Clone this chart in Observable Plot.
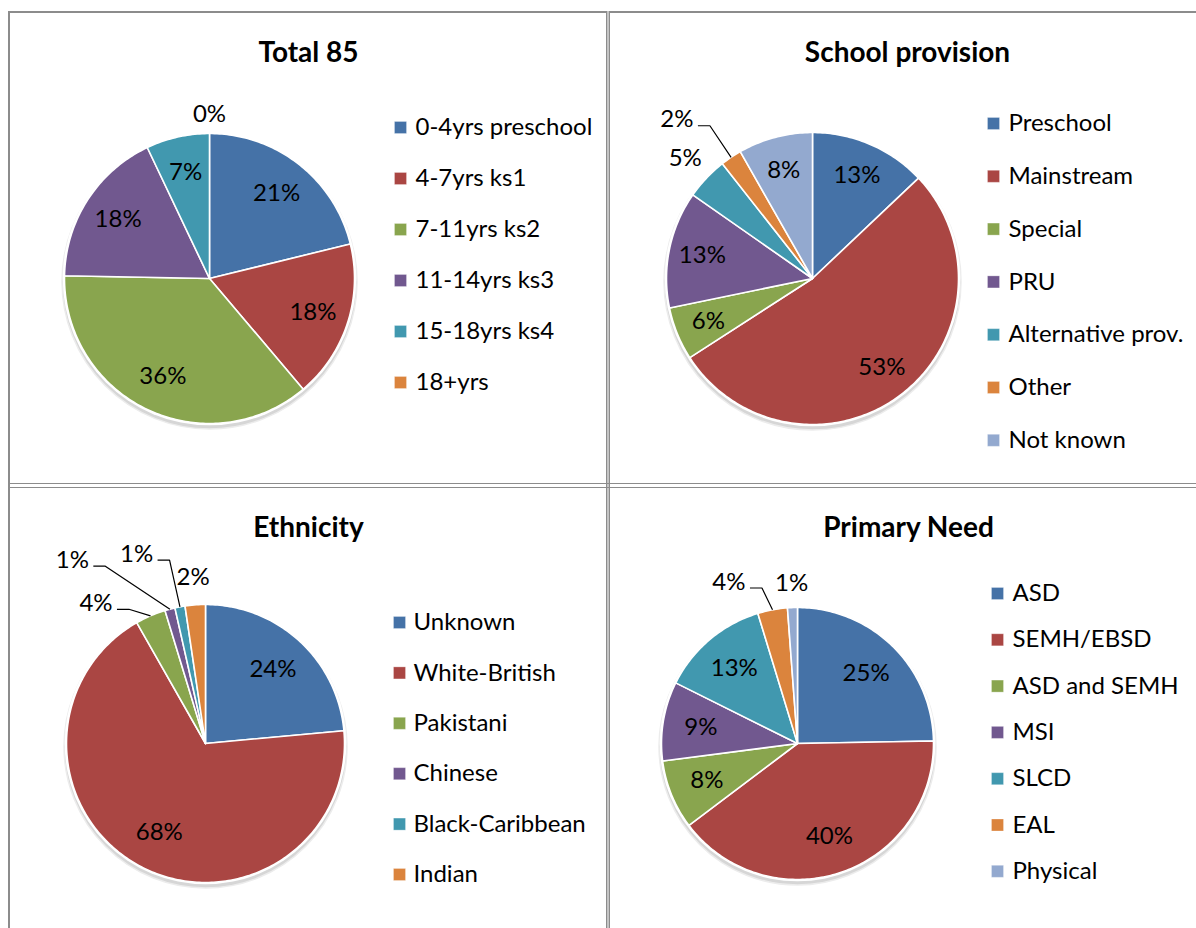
<!DOCTYPE html>
<html>
<head>
<meta charset="utf-8">
<script src="https://cdn.jsdelivr.net/npm/d3@7"></script>
<script src="https://cdn.jsdelivr.net/npm/@observablehq/plot@0.6"></script>
<style>
  html, body { margin: 0; padding: 0; background: #fff; }
  #page { position: relative; width: 1196px; height: 928px; overflow: hidden; font-family: Lato, "Open Sans", sans-serif; }
  .panel { position: absolute; }
  .hl, .vl { position: absolute; background: #8c8c8c; }
</style>
</head>
<body>
<div id="page"></div>
<script>
// ---------- data ----------
const titles = ["Total 85", "School provision", "Ethnicity", "Primary Need"];

const ageCategories = ["0-4yrs preschool", "4-7yrs ks1", "7-11yrs ks2", "11-14yrs ks3", "15-18yrs ks4", "18+yrs"];
const ageCounts = [18, 15, 31, 15, 6, 0];

const provisionCategories = ["Preschool", "Mainstream", "Special", "PRU", "Alternative prov.", "Other", "Not known"];
const provisionCounts = [11, 45, 5, 11, 4, 2, 7];

const ethnicityCategories = ["Unknown", "White-British", "Pakistani", "Chinese", "Black-Caribbean", "Indian"];
const ethnicityCounts = [20, 58, 3, 1, 1, 2];

const needCategories = ["ASD", "SEMH/EBSD", "ASD and SEMH", "MSI", "SLCD", "EAL", "Physical"];
const needCounts = [21, 34, 7, 8, 11, 3, 1];

const palette = ["#4572A7", "#AA4643", "#89A54E", "#71588F", "#4198AF", "#DB843D", "#93A9CF"];

// ---------- layout (page pixel units) ----------
const panels = [
  {title: titles[0], cats: ageCategories, vals: ageCounts,
   box: [10, 13, 596, 470], cx: 209, cy: 278, r: 145,
   legend: {sx: 400, tx: 415, y0: 127, dy: 51}, titleX: 308, titleY: 53, inner: 0.75,
   labels: {5: {k: 1.13}}},
  {title: titles[1], cats: provisionCategories, vals: provisionCounts,
   box: [611, 13, 585, 470], cx: 812, cy: 278, r: 146,
   legend: {sx: 993, tx: 1008, y0: 123, dy: 52.8}, titleX: 907, titleY: 53, inner: 0.77,
   labels: {4: {k: 1.2}, 5: {k: 1.43, a: 319.5, leader: true}}},
  {title: titles[2], cats: ethnicityCategories, vals: ethnicityCounts,
   box: [10, 489, 596, 439], cx: 205, cy: 743, r: 139,
   legend: {sx: 399, tx: 413, y0: 622, dy: 50.4}, titleX: 308, titleY: 528, inner: 0.72,
   labels: {2: {k: 1.28, a: 322, leader: true}, 3: {k: 1.63, a: 324, leader: true}, 4: {k: 1.45, a: 340, leader: true}, 5: {k: 1.2}}},
  {title: titles[3], cats: needCategories, vals: needCounts,
   box: [611, 489, 585, 439], cx: 797, cy: 743, r: 136,
   legend: {sx: 997, tx: 1012, y0: 593, dy: 46.3}, titleX: 908, titleY: 528, inner: 0.72,
   labels: {5: {k: 1.29, a: 337, leader: true}, 6: {k: 1.18}}}
];

const page = document.getElementById("page");

// grid lines
function line(cls, l, t, w, h, color) {
  const d = document.createElement("div");
  d.className = cls;
  Object.assign(d.style, {left: l + "px", top: t + "px", width: w + "px", height: h + "px"});
  if (color) d.style.background = color;
  page.appendChild(d);
}
line("hl", 8, 11, 1188, 2);
line("vl", 8, 11, 2, 917);
line("vl", 607, 11, 2, 917, "#c4c4c4");
line("vl", 605.5, 11, 1.7, 917);
line("vl", 608.8, 11, 1.7, 917);
line("hl", 8, 482.5, 1188, 1.6);
line("hl", 8, 486.6, 1188, 1.6);

function polar(p, angleRad, d) {
  return [p.cx + d * Math.sin(angleRad), p.cy - d * Math.cos(angleRad)];
}

panels.forEach(p => {
  const [left, top, w, h] = p.box;
  const total = d3.sum(p.vals);
  const arcs = d3.pie().sort(null).value(d => d)(p.vals);

  // slice polygons
  const slicePts = [];
  arcs.forEach((a, i) => {
    if (a.value <= 0) return;
    const cat = p.cats[i];
    slicePts.push({x: p.cx, y: p.cy, cat, id: i});
    const steps = Math.max(2, Math.ceil((a.endAngle - a.startAngle) / (Math.PI / 180)));
    for (let s = 0; s <= steps; s++) {
      const ang = a.startAngle + (a.endAngle - a.startAngle) * s / steps;
      const [x, y] = polar(p, ang, p.r);
      slicePts.push({x, y, cat, id: i});
    }
    slicePts.push({x: p.cx, y: p.cy, cat, id: i});
  });

  // labels
  const labelRows = [];
  const leaderPts = [];
  arcs.forEach((a, i) => {
    const mid = (a.startAngle + a.endAngle) / 2;
    const o = p.labels[i] || {};
    const ang = o.a !== undefined ? o.a * Math.PI / 180 : mid;
    const k = o.k !== undefined ? o.k : p.inner;
    const [x, y] = polar(p, ang, k * p.r);
    labelRows.push({x, y, text: Math.round(a.value / total * 100) + "%"});
    if (o.leader) {
      const [ex, ey] = polar(p, mid, p.r);
      leaderPts.push({x: x + 21, y: y + 6, id: i});
      leaderPts.push({x: x + 33, y: y + 6, id: i});
      leaderPts.push({x: ex, y: ey, id: i});
    }
  });

  const legendRows = p.cats.map((c, i) => ({cat: c, y: p.legend.y0 + i * p.legend.dy}));

  const chart = Plot.plot({
    width: w, height: h,
    margin: 0,
    x: {domain: [left, left + w], range: [0, w], axis: null},
    y: {domain: [top, top + h], range: [0, h], axis: null},
    color: {domain: p.cats, range: palette.slice(0, p.cats.length)},
    style: {fontFamily: "Lato, 'Open Sans', sans-serif", background: "transparent", overflow: "visible"},
    marks: [
      // shadow + rim
      Plot.dot([{x: p.cx, y: p.cy}], {x: "x", y: "y", r: p.r + 2.5, dy: 3, fill: "#d6d6d6", stroke: "#ececec", strokeWidth: 1.5}),
      Plot.dot([{x: p.cx, y: p.cy}], {x: "x", y: "y", r: p.r + 1.8, fill: "#ffffff"}),
      // slices
      Plot.line(slicePts, {x: "x", y: "y", z: "id", fill: "cat", stroke: "#ffffff", strokeWidth: 1.6, curve: "linear"}),
      // leaders
      Plot.line(leaderPts, {x: "x", y: "y", z: "id", stroke: "#000", strokeWidth: 1.2, strokeLinecap: "butt", strokeLinejoin: "miter"}),
      // percent labels
      Plot.text(labelRows, {x: "x", y: "y", text: "text", fontSize: 24, fill: "#000", textAnchor: "middle", lineAnchor: "middle"}),
      // title
      Plot.text([p.title], {x: () => p.titleX, y: () => p.titleY, text: d => d, fontSize: 28, fontWeight: "bold", fill: "#000", textAnchor: "middle", lineAnchor: "middle"}),
      // legend
      Plot.dot(legendRows, {x: () => p.legend.sx, y: "y", symbol: "square", r: 6.8, fill: "cat", stroke: "#ffffff", strokeOpacity: 0.5, strokeWidth: 0.6}),
      Plot.text(legendRows, {x: () => p.legend.tx, y: "y", text: "cat", fontSize: 24, fill: "#000", textAnchor: "start", lineAnchor: "middle"})
    ]
  });

  const holder = document.createElement("div");
  holder.className = "panel";
  Object.assign(holder.style, {left: left + "px", top: top + "px", width: w + "px", height: h + "px"});
  holder.appendChild(chart);
  page.appendChild(holder);
});
</script>
</body>
</html>
